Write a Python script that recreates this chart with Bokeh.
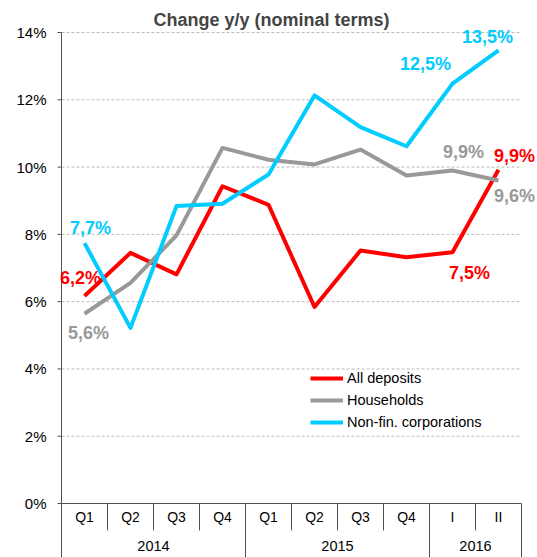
from bokeh.plotting import figure
from bokeh.models import (FactorRange, Range1d, FixedTicker, PrintfTickFormatter,
                          ColumnDataSource, LabelSet, Label)
from bokeh.core.properties import value
from bokeh.embed import file_html
from bokeh.resources import INLINE

# ---- data ----
years = ["2014", "2014", "2014", "2014", "2015", "2015", "2015", "2015", "2016", "2016"]
periods = ["Q1", "Q2", "Q3", "Q4", "Q1", "Q2", "Q3", "Q4", "I", "II"]
all_deposits = [6.17, 7.45, 6.81, 9.43, 8.88, 5.84, 7.52, 7.32, 7.47, 9.92]
households = [5.64, 6.56, 7.97, 10.57, 10.22, 10.08, 10.52, 9.75, 9.90, 9.60]
non_fin_corps = [7.74, 5.22, 8.84, 8.91, 9.78, 12.13, 11.19, 10.62, 12.48, 13.47]
y_ticks = [0, 2, 4, 6, 8, 10, 12, 14]
series_names = ["All deposits", "Households", "Non-fin. corporations"]
title_text = "Change y/y (nominal terms)"
labelled_points = [0, 8, 9]

# ---- style ----
colors = ["#FF0000", "#999999", "#00CCFF"]
label_offsets = [
    [(-4, 18), (17, -21), (16, 14)],
    [(4, -19), (11, 18), (16, -15)],
    [(6, 15), (-27, 20), (-11, 13)],
]
FONT = "Liberation Sans"
AXIS_COL = "#505050"
Y_MIN = -1.605
Y_MAX = 14.09
PX_PER_CAT = 46.0
TICK_LEN = 4 / PX_PER_CAT

factors = list(zip(years, periods))
n = len(factors)

p = figure(
    width=537, height=557,
    x_range=FactorRange(*factors, factor_padding=0, group_padding=0,
                        subgroup_padding=0, range_padding=15 / PX_PER_CAT,
                        range_padding_units="absolute"),
    y_range=Range1d(Y_MIN, Y_MAX),
    output_backend="svg", toolbar_location=None,
    min_border_left=46, min_border_right=1, min_border_top=29, min_border_bottom=0,
)
p.outline_line_color = None
p.background_fill_color = "white"
p.border_fill_color = "white"

p.title.text = title_text
p.title.text_font = FONT
p.title.text_font_size = "18px"
p.title.text_font_style = "bold"
p.title.align = "left"
p.title.offset = 107
p.title.standoff = 0

# y axis: labels only (line and ticks drawn at the category-area edge below)
ya = p.yaxis[0]
ya.ticker = FixedTicker(ticks=y_ticks)
ya.formatter = PrintfTickFormatter(format="%d%%")
ya.axis_line_color = None
ya.major_tick_line_color = None
ya.major_tick_out = 0
ya.major_tick_in = 0
ya.minor_tick_line_color = None
ya.major_label_standoff = 0
ya.major_label_text_font = FONT
ya.major_label_text_font_size = "15px"
ya.major_label_text_color = "black"

p.xgrid.grid_line_color = None
p.ygrid.grid_line_color = None

# horizontal dashed gridlines over the category area
p.segment(x0=[0] * len(y_ticks), y0=y_ticks, x1=[n] * len(y_ticks), y1=y_ticks,
          line_color="#BBBBBB", line_width=1, line_dash="3 2")

# y axis line and tick marks at the left edge of the category area
p.segment(x0=[0], y0=[Y_MIN], x1=[0], y1=[max(y_ticks)], line_color=AXIS_COL, line_width=1)
p.segment(x0=[-TICK_LEN] * len(y_ticks), y0=y_ticks, x1=[0] * len(y_ticks), y1=y_ticks,
          line_color=AXIS_COL, line_width=1)

# x axis (nested categorical) placed on the 0% line
xa = p.xaxis[0]
xa.fixed_location = 0
xa.axis_line_color = None
xa.major_tick_line_color = None
xa.major_tick_out = 0
xa.major_label_standoff = 5
xa.major_label_text_font = FONT
xa.major_label_text_font_size = "14px"
xa.major_label_text_color = "black"
xa.group_text_color = None
xa.separator_line_color = None

# baseline of the category area
p.segment(x0=[0], y0=[0], x1=[n], y1=[0], line_color=AXIS_COL, line_width=1)

# year labels under the quarter row
groups = []
for yv in years:
    if yv not in groups:
        groups.append(yv)
ysrc = ColumnDataSource(dict(x=groups, y=[0] * len(groups), text=groups))
p.add_layout(LabelSet(x="x", y="y", text="text", y_offset=-42, source=ysrc,
                      text_color="black", text_font=value(FONT), text_font_size="14.5px",
                      text_align="center", text_baseline="middle"))

# separators in axis area (synthetic coordinates: factor i spans [i, i+1])
bounds = list(range(n + 1))
group_edges = [0] + [i for i in range(1, n) if years[i] != years[i - 1]] + [n]
short_b = [b for b in bounds if b not in group_edges]
p.segment(x0=short_b, y0=[0] * len(short_b), x1=short_b, y1=[-0.80] * len(short_b),
          line_color=AXIS_COL, line_width=1)
p.segment(x0=group_edges, y0=[0] * len(group_edges), x1=group_edges,
          y1=[Y_MIN] * len(group_edges), line_color=AXIS_COL, line_width=1)

# lines
for vals, name, col in zip([all_deposits, households, non_fin_corps], series_names, colors):
    p.line(x=factors, y=vals, line_color=col, line_width=4, line_join="round",
           legend_label=name)

# data labels; x is the synthetic centre of factor i
for vals, col, offs in zip([all_deposits, households, non_fin_corps], colors, label_offsets):
    for i, (dx, dy) in zip(labelled_points, offs):
        p.add_layout(Label(x=i + 0.5, y=vals[i],
                           text=("%.1f%%" % vals[i]).replace(".", ","),
                           x_offset=dx, y_offset=dy,
                           text_color=col, text_font=FONT,
                           text_font_size="18px", text_font_style="bold",
                           text_align="center", text_baseline="middle"))

# legend
lg = p.legend[0]
lg.location = (264, 125)
lg.padding = 0
lg.margin = 0
lg.spacing = 2
lg.border_line_color = None
lg.background_fill_alpha = 0
lg.glyph_width = 33
lg.glyph_height = 20
lg.label_height = 20
lg.label_standoff = 4
lg.label_text_font = FONT
lg.label_text_font_size = "14.5px"
lg.label_text_color = "black"

open("out.html", "w").write(file_html(p, INLINE))
